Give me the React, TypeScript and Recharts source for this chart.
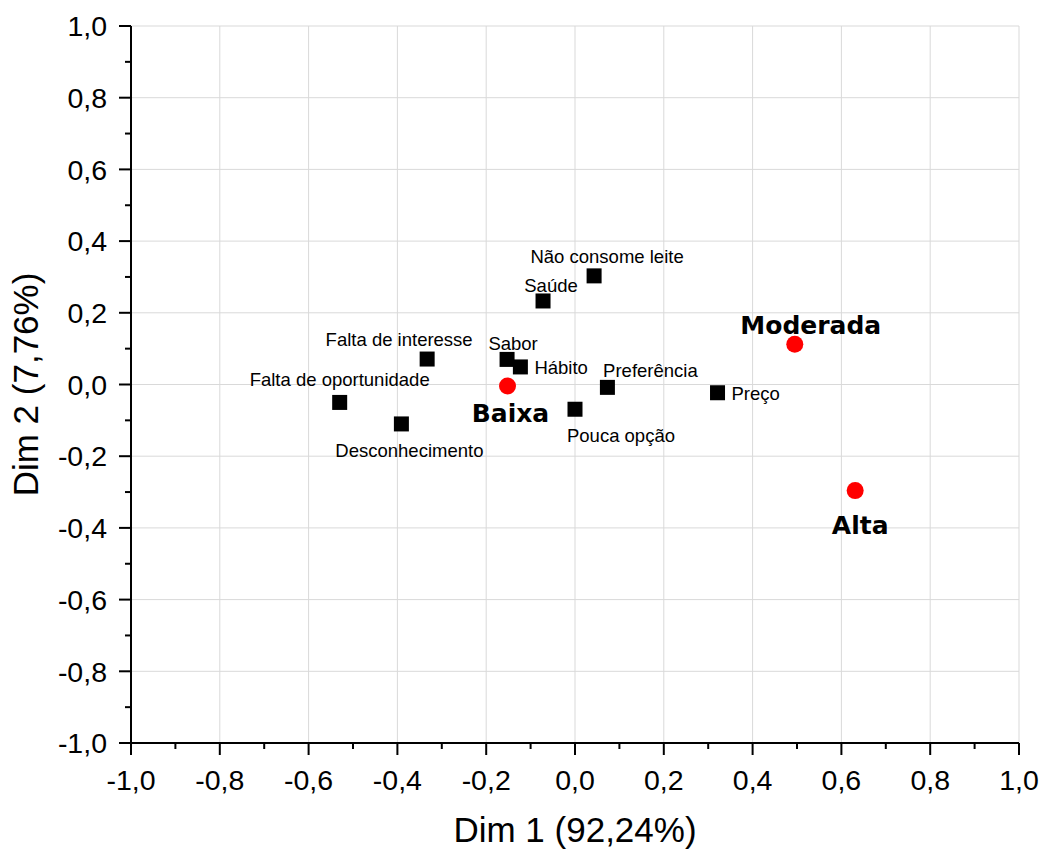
import {
  CartesianGrid,
  Label,
  Scatter,
  ScatterChart,
  XAxis,
  YAxis,
} from 'recharts'

// attribute points (black squares)
const attrNames = [
  'Falta de oportunidade',
  'Desconhecimento',
  'Falta de interesse',
  'Sabor',
  'Hábito',
  'Saúde',
  'Não consome leite',
  'Pouca opção',
  'Preferência',
  'Preço',
]
const attrX = [-0.53, -0.391, -0.333, -0.153, -0.123, -0.072, 0.043, 0.0, 0.073, 0.321]
const attrY = [-0.05, -0.11, 0.071, 0.07, 0.049, 0.233, 0.303, -0.069, -0.008, -0.023]

// consumption groups (red circles)
const groupNames = ['Baixa', 'Moderada', 'Alta']
const groupX = [-0.152, 0.495, 0.631]
const groupY = [-0.004, 0.112, -0.296]

const axisTicks = [
  -1, -0.9, -0.8, -0.7, -0.6, -0.5, -0.4, -0.3, -0.2, -0.1, 0, 0.1, 0.2, 0.3, 0.4, 0.5,
  0.6, 0.7, 0.8, 0.9, 1,
]
const gridValues = [-1, -0.8, -0.6, -0.4, -0.2, 0, 0.2, 0.4, 0.6, 0.8, 1]

const xTitle = 'Dim 1 (92,24%)'
const yTitle = 'Dim 2 (7,76%)'

const attrData = attrNames.map((name, i) => ({ name, x: attrX[i], y: attrY[i] }))
const groupData = groupNames.map((name, i) => ({ name, x: groupX[i], y: groupY[i] }))

// label placement relative to marker centre
const labelPos: Record<string, { dx: number; dy: number; anchor: string }> = {
  'Falta de oportunidade': { dx: 0, dy: -16, anchor: 'middle' },
  Desconhecimento: { dx: 8, dy: 33, anchor: 'middle' },
  'Falta de interesse': { dx: -28, dy: -13, anchor: 'middle' },
  Sabor: { dx: 6, dy: -9, anchor: 'middle' },
  'Hábito': { dx: 14, dy: 7, anchor: 'start' },
  'Saúde': { dx: 8, dy: -9, anchor: 'middle' },
  'Não consome leite': { dx: 13, dy: -13, anchor: 'middle' },
  'Pouca opção': { dx: 46, dy: 33, anchor: 'middle' },
  'Preferência': { dx: 43, dy: -10, anchor: 'middle' },
  'Preço': { dx: 14, dy: 7, anchor: 'start' },
  Baixa: { dx: 3, dy: 36, anchor: 'middle' },
  Moderada: { dx: 16, dy: -10, anchor: 'middle' },
  Alta: { dx: 5, dy: 43, anchor: 'middle' },
}

const FONT = '"Liberation Sans", Arial, sans-serif'
const fmt = (v: number) => v.toFixed(1).replace('.', ',')
const isMajor = (v: number) => Math.round(v * 10) % 2 === 0

function XTick(props: any) {
  const { x, y, payload } = props
  const major = isMajor(payload.value)
  return (
    <g>
      <line x1={x} y1={y} x2={x} y2={y + (major ? 12 : 6)} stroke='#000' strokeWidth={2} />
      {major && (
        <text x={x} y={y + 46.5} textAnchor='middle' fontSize={28.5} fontFamily={FONT} fill='#000'>
          {fmt(payload.value)}
        </text>
      )}
    </g>
  )
}

function YTick(props: any) {
  const { x, y, payload } = props
  const major = isMajor(payload.value)
  return (
    <g>
      <line x1={x} y1={y} x2={x - (major ? 12 : 6)} y2={y} stroke='#000' strokeWidth={2} />
      {major && (
        <text x={x - 24} y={y} dy='0.36em' textAnchor='end' fontSize={28.5} fontFamily={FONT} fill='#000'>
          {fmt(payload.value)}
        </text>
      )}
    </g>
  )
}

function SquareShape(props: any) {
  const { cx, cy, payload } = props
  const p = labelPos[payload.name]
  return (
    <g>
      <rect x={cx - 7.5} y={cy - 7.5} width={15} height={15} fill='#000' />
      <text x={cx + p.dx} y={cy + p.dy} textAnchor={p.anchor} fontSize={18.5} fontFamily={FONT} fill='#000'>
        {payload.name}
      </text>
    </g>
  )
}

function CircleShape(props: any) {
  const { cx, cy, payload } = props
  const p = labelPos[payload.name]
  return (
    <g>
      <circle cx={cx} cy={cy} r={8.5} fill='#ff0000' />
      <text
        x={cx + p.dx}
        y={cy + p.dy}
        textAnchor={p.anchor}
        fontSize={25}
        fontWeight='bold'
        fontFamily='"DejaVu Sans", sans-serif'
        fill='#000'
      >
        {payload.name}
      </text>
    </g>
  )
}

export default function App() {
  return (
    <div style={{ position: 'absolute', left: 0, top: 0, background: '#fff' }}>
      <ScatterChart width={1043} height={852} margin={{ top: 26, right: 24, bottom: 0, left: 0 }}>
        <CartesianGrid
          stroke='#d9d9d9'
          strokeWidth={1}
          verticalValues={gridValues}
          horizontalValues={gridValues}
        />
        <XAxis
          type='number'
          dataKey='x'
          domain={[-1, 1]}
          ticks={axisTicks}
          interval={0}
          height={109}
          tickSize={0}
          tickMargin={0}
          tickLine={false}
          axisLine={{ stroke: '#000', strokeWidth: 2 }}
          tick={<XTick />}
        >
          <Label
            content={() => (
              <text x={575} y={842} textAnchor='middle' fontSize={35} fontFamily={FONT} fill='#000'>
                {xTitle}
              </text>
            )}
          />
        </XAxis>
        <YAxis
          type='number'
          dataKey='y'
          domain={[-1, 1]}
          ticks={axisTicks}
          interval={0}
          width={131}
          tickSize={0}
          tickMargin={0}
          tickLine={false}
          axisLine={{ stroke: '#000', strokeWidth: 2 }}
          tick={<YTick />}
        >
          <Label
            content={() => (
              <text
                transform='translate(25, 384.5) rotate(-90)'
                textAnchor='middle'
                dominantBaseline='central'
                fontSize={35}
                fontFamily={FONT}
                fill='#000'
              >
                {yTitle}
              </text>
            )}
          />
        </YAxis>
        <XAxis
          xAxisId='top'
          orientation='top'
          type='number'
          domain={[-1, 1]}
          height={0}
          tick={false}
          tickLine={false}
          axisLine={{ stroke: '#000', strokeWidth: 2 }}
        />
        <YAxis
          yAxisId='right'
          orientation='right'
          type='number'
          domain={[-1, 1]}
          width={0}
          tick={false}
          tickLine={false}
          axisLine={{ stroke: '#000', strokeWidth: 2 }}
        />
        <Scatter data={attrData} shape={<SquareShape />} isAnimationActive={false} />
        <Scatter data={groupData} shape={<CircleShape />} isAnimationActive={false} />
      </ScatterChart>
    </div>
  )
}
